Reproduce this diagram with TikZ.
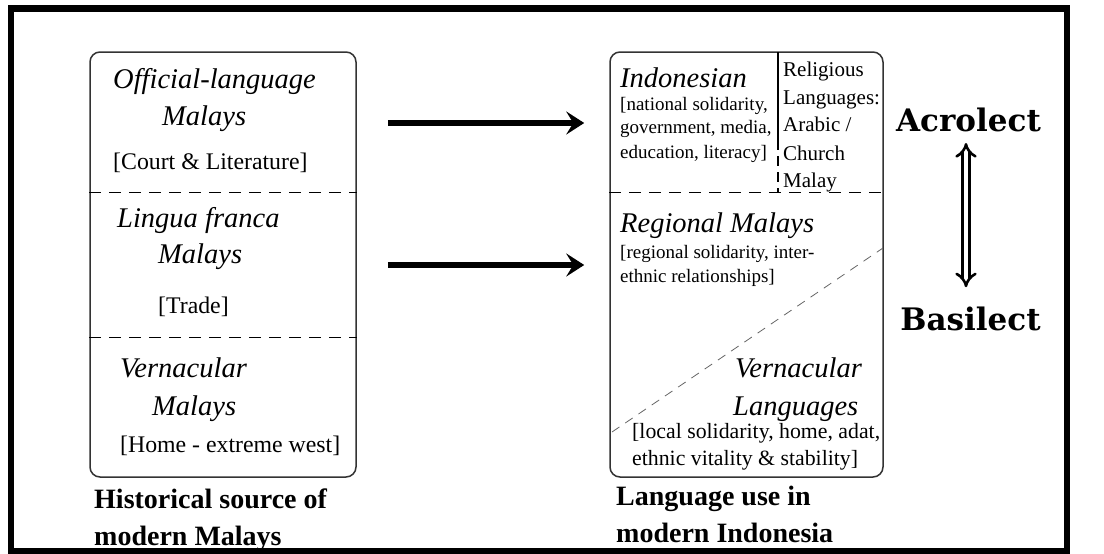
\documentclass[tikz,border=0pt]{standalone}
\usepackage{fontspec}
\setmainfont{Liberation Serif}
\newfontfamily\wideserif{DejaVu Serif}
\usetikzlibrary{arrows.meta,positioning,calc}

\tikzset{
  panel/.style={draw=black!80,line width=1.5pt,rounded corners=10pt},
  divider/.style={line width=1.2pt,dash pattern=on 12pt off 8pt},
  heading/.style={anchor=base west,inner sep=0pt,font=\fontsize{28.5}{30}\selectfont\itshape},
  note/.style={anchor=base west,inner sep=0pt,font=\fontsize{23.8}{26}\selectfont},
  small/.style={anchor=base west,inner sep=0pt,font=\fontsize{19}{21}\selectfont},
  relig/.style={anchor=base west,inner sep=0pt,font=\fontsize{21}{23}\selectfont},
  local/.style={anchor=base west,inner sep=0pt,font=\fontsize{21.8}{23}\selectfont},
  caption/.style={anchor=base west,inner sep=0pt,font=\fontsize{28}{30}\selectfont\bfseries},
  level/.style={anchor=base,inner sep=0pt,font=\fontsize{31}{33}\selectfont\wideserif\bfseries},
  flow/.style={-{Stealth[length=18pt,width=23pt,inset=7pt]},line width=6pt},
  updown/.style={{Implies}-{Implies},double=white,double distance=4.5pt,line width=2.6pt},
}

\begin{document}
\begin{tikzpicture}[x=1pt,y=-1pt]
  \useasboundingbox (0,0) rectangle (1104,554);
  \draw[line width=6.5pt] (11,8.5) rectangle (1067,551);
  % the two columns
  \node[panel,minimum width=266pt,minimum height=425pt] (src) at (223,264.5) {};
  \node[panel,minimum width=273pt,minimum height=425pt] (dst) at (746.5,264.5) {};
  \draw[divider] ([yshift=-141pt]src.north west) -- ([yshift=-141pt]src.north east);
  \draw[divider] ([yshift=-286pt]src.north west) -- ([yshift=-286pt]src.north east);
  \draw[divider] ([yshift=-141pt]dst.north west) -- ([yshift=-141pt]dst.north east);
  \draw[line width=1.2pt] (778,52) -- (778,140);
  \draw[line width=1.2pt,dash pattern=on 10pt off 6pt] (778,140) -- (778,193);
  \draw[black!60,line width=0.8pt,dash pattern=on 9pt off 7pt] (612,432) -- (883,248);
  % historical sources
  \node[heading] (offi) at (113,88) {Official-language};
  \node[heading] (offim) at (162,125) {Malays};
  \node[note] (court) at (113,169) {[Court \& Literature]};
  \node[heading] (ling) at (117,227) {Lingua franca};
  \node[heading] (lingm) at (158,263) {Malays};
  \node[note] (trade) at (158,313) {[Trade]};
  \node[heading] (vern) at (120,377) {Vernacular};
  \node[heading] (vernm) at (152,415) {Malays};
  \node[note] (home) at (120,452) {[Home - extreme west]};
  \node[caption] (srca) at (94,508) {Historical source of};
  \node[caption] (srcb) at (94,545) {modern Malays};
  % modern use
  \node[heading] (indo) at (620,87) {Indonesian};
  \node[small] (indoa) at (620,110) {[national solidarity,};
  \node[small] (indob) at (620,133) {government, media,};
  \node[small] (indoc) at (620,158) {education, literacy]};
  \node[relig] (rela) at (783,76) {Religious};
  \node[relig] (relb) at (783,104) {Languages:};
  \node[relig] (relc) at (783,131) {Arabic /};
  \node[relig] (reld) at (783,160) {Church};
  \node[relig] (rele) at (783,187) {Malay};
  \node[heading] (regio) at (620,232) {Regional Malays};
  \node[small] (regioa) at (620,258) {[regional solidarity, inter-};
  \node[small] (regiob) at (620,282) {ethnic relationships]};
  \node[heading] (vlang) at (735,377) {Vernacular};
  \node[heading] (vlangm) at (733,415) {Languages};
  \node[local] (locala) at (632,438) {[local solidarity, home, adat,};
  \node[local] (localb) at (632,465) {ethnic vitality \& stability]};
  \node[caption] (dsta) at (616,505) {Language use in};
  \node[caption] (dstb) at (616,542) {modern Indonesia};
  % scale
  \node[level] (acro) at (968.5,131) {Acrolect};
  \node[level] (basi) at (970.5,330) {Basilect};
  \coordinate (rowA) at (0,123);
  \coordinate (rowB) at (0,265);
  \draw[flow,shorten <=31pt,shorten >=25pt] (src.east |- rowA) -- (dst.west |- rowA);
  \draw[flow,shorten <=31pt,shorten >=25pt] (src.east |- rowB) -- (dst.west |- rowB);
  \draw[updown,shorten <=12pt,shorten >=19pt] ([xshift=-2.5pt]acro.base) -- ([xshift=-2.5pt]acro.base |- basi.north);
\end{tikzpicture}
\end{document}
